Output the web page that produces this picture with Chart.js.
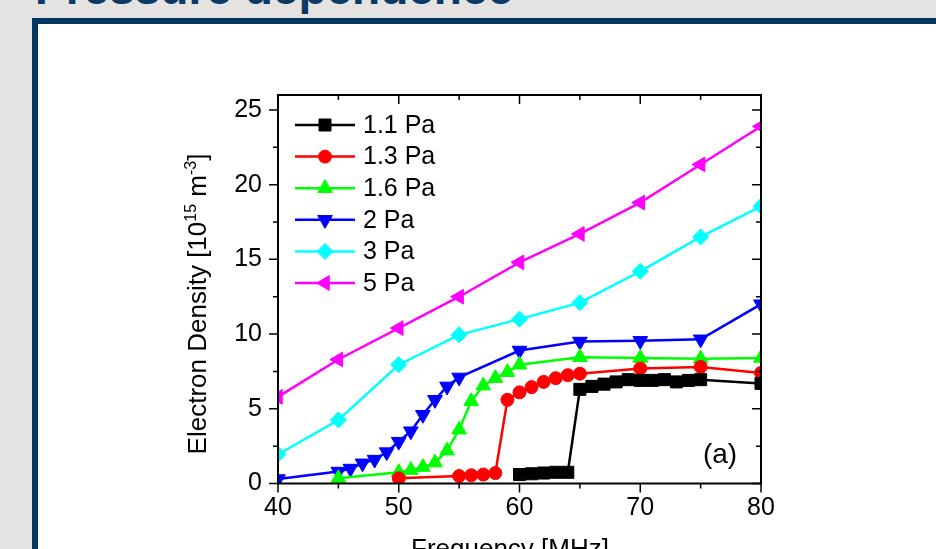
<!DOCTYPE html>
<html>
<head>
<meta charset="utf-8">
<script src="https://cdn.jsdelivr.net/npm/chart.js@4.4.1/dist/chart.umd.min.js"></script>
<style>
  html, body { margin: 0; padding: 0; width: 936px; height: 549px; overflow: hidden; background: #e4e3e2; }
  #slideTitle { position: absolute; left: 35px; top: -35px; font: bold 46px 'Liberation Sans', Arial, sans-serif; line-height: 46px; color: #0b3a66; white-space: nowrap; }
  #frame { position: absolute; left: 32px; top: 18px; width: 960px; height: 600px; background: #fff; border-left: 6px solid #023761; border-top: 6px solid #023761; }
  #c { position: absolute; left: 0; top: 0; }
</style>
</head>
<body>
<div id="slideTitle">Pressure dependence</div>
<div id="frame"></div>
<canvas id="c" width="936" height="600"></canvas>
<script>
// values (frequency in MHz, density in 1e15 m^-3)
const freq11 = [60, 61, 62, 63, 64, 65, 66, 67, 68, 69, 70, 71, 72, 73, 74, 75, 80];
const dens11 = [0.6, 0.65, 0.7, 0.75, 0.75, 6.3, 6.5, 6.65, 6.8, 6.95, 6.9, 6.9, 6.95, 6.8, 6.9, 6.95, 6.7];

const freq13 = [50, 55, 56, 57, 58, 59, 60, 61, 62, 63, 64, 65, 70, 75, 80];
const dens13 = [0.35, 0.5, 0.55, 0.6, 0.7, 5.6, 6.1, 6.45, 6.8, 7.05, 7.25, 7.35, 7.7, 7.8, 7.4];

const freq16 = [45, 50, 51, 52, 53, 54, 55, 56, 57, 58, 59, 60, 65, 70, 75, 80];
const dens16 = [0.35, 0.75, 0.9, 1.1, 1.4, 2.2, 3.6, 5.5, 6.55, 7.05, 7.45, 7.95, 8.45, 8.4, 8.35, 8.4];

const freq2 = [40, 45, 46, 47, 48, 49, 50, 51, 52, 53, 54, 55, 60, 65, 70, 75, 80];
const dens2 = [0.3, 0.8, 1.0, 1.35, 1.6, 2.1, 2.8, 3.5, 4.6, 5.6, 6.5, 7.1, 8.9, 9.5, 9.55, 9.65, 12.0];

const freq3 = [40, 45, 50, 55, 60, 65, 70, 75, 80];
const dens3 = [1.95, 4.25, 7.95, 9.95, 11.0, 12.1, 14.2, 16.5, 18.55];

const freq5 = [40, 45, 50, 55, 60, 65, 70, 75, 80];
const dens5 = [5.8, 8.3, 10.4, 12.5, 14.8, 16.7, 18.8, 21.35, 23.9];

const seriesLabels = ['1.1 Pa', '1.3 Pa', '1.6 Pa', '2 Pa', '3 Pa', '5 Pa'];
const xMajorTicks = [40, 50, 60, 70, 80];
const xMinorTicks = [45, 55, 65, 75];
const yMajorTicks = [0, 5, 10, 15, 20, 25];
const yMinorTicks = [2.5, 7.5, 12.5, 17.5, 22.5];

const FONT = "'Liberation Sans', Arial, sans-serif";

const toPoints = (xs, ys) => xs.map((x, i) => ({ x: x, y: ys[i] }));

const makeSet = (label, xs, ys, color, style, rotation, radius) => ({
    label: label,
    data: toPoints(xs, ys),
    showLine: true,
    borderColor: color,
    backgroundColor: color,
    borderWidth: 2.5,
    pointStyle: style,
    pointRotation: rotation,
    pointRadius: radius,
    pointHoverRadius: radius,
    pointBorderWidth: 1,
    pointBackgroundColor: color,
    pointBorderColor: color,
    clip: 0
});

const datasets = [
    makeSet(seriesLabels[0], freq11, dens11, '#000000', 'rect', 0, 8.5),
    makeSet(seriesLabels[1], freq13, dens13, '#ff0000', 'circle', 0, 6.5),
    makeSet(seriesLabels[2], freq16, dens16, '#00ff00', 'triangle', 0, 8.5),
    makeSet(seriesLabels[3], freq2, dens2, '#0000ff', 'triangle', 180, 8.5),
    makeSet(seriesLabels[4], freq3, dens3, '#00ffff', 'rectRot', 0, 8),
    makeSet(seriesLabels[5], freq5, dens5, '#ff00ff', 'triangle', 270, 8.5)
];

// box, mirrored tick marks, legend and axis titles in the Origin look
const originFrame = {
    id: 'originFrame',
    afterDatasetsDraw(chart) {
        const { ctx, chartArea: a, scales: { x, y } } = chart;
        ctx.save();
        ctx.strokeStyle = '#000';
        ctx.lineWidth = 2;
        ctx.strokeRect(a.left, a.top, a.right - a.left, a.bottom - a.top);
        ctx.lineWidth = 1.5;
        ctx.beginPath();
        const xt = (v, len) => {
            const px = x.getPixelForValue(v);
            ctx.moveTo(px, a.bottom); ctx.lineTo(px, a.bottom + len);
            ctx.moveTo(px, a.top); ctx.lineTo(px, a.top + len);
        };
        const yt = (v, len) => {
            const py = y.getPixelForValue(v);
            ctx.moveTo(a.left, py); ctx.lineTo(a.left - len, py);
            ctx.moveTo(a.right, py); ctx.lineTo(a.right - len, py);
        };
        xMajorTicks.forEach(v => xt(v, 9));
        xMinorTicks.forEach(v => xt(v, 5));
        yMajorTicks.forEach(v => yt(v, 9));
        yMinorTicks.forEach(v => yt(v, 5));
        ctx.stroke();

        // legend
        chart.data.datasets.forEach((ds, i) => {
            const ly = a.top + 30 + i * 31.6;
            ctx.strokeStyle = ds.borderColor;
            ctx.lineWidth = 2.5;
            ctx.beginPath();
            ctx.moveTo(a.left + 17, ly);
            ctx.lineTo(a.left + 77, ly);
            ctx.stroke();
            ctx.fillStyle = ds.pointBackgroundColor;
            ctx.strokeStyle = ds.pointBorderColor;
            ctx.lineWidth = 1;
            Chart.helpers.drawPoint(ctx, {
                pointStyle: ds.pointStyle,
                rotation: ds.pointRotation,
                radius: ds.pointRadius,
                borderWidth: 1
            }, a.left + 47, ly);
            ctx.fillStyle = '#000';
            ctx.font = '25px ' + FONT;
            ctx.textAlign = 'left';
            ctx.textBaseline = 'middle';
            ctx.fillText(ds.label, a.left + 85, ly + 1);
        });

        // panel tag
        ctx.font = '28px ' + FONT;
        ctx.textAlign = 'center';
        ctx.fillText('(a)', 720, 455);

        // x title
        ctx.font = '26px ' + FONT;
        ctx.textBaseline = 'alphabetic';
        ctx.fillText('Frequency [MHz]', 510, 557);

        // y title with superscripts
        ctx.translate(206, 304);
        ctx.rotate(-Math.PI / 2);
        const parts = [
            ['Electron Density [10', 26, 0],
            ['15', 16, -10],
            [' m', 26, 0],
            ['-3', 16, -10],
            [']', 26, 0]
        ];
        let total = 0;
        parts.forEach(p => { ctx.font = p[1] + 'px ' + FONT; total += ctx.measureText(p[0]).width; });
        let cx = -total / 2;
        ctx.textAlign = 'left';
        parts.forEach(p => {
            ctx.font = p[1] + 'px ' + FONT;
            ctx.fillText(p[0], cx, p[2]);
            cx += ctx.measureText(p[0]).width;
        });
        ctx.restore();
    }
};

const chartOptions = {
    responsive: false,
    devicePixelRatio: 1,
    animation: false,
    layout: {
        padding: { left: 178, right: 175, top: 95, bottom: 36.5 }
    },
    plugins: {
        legend: { display: false },
        tooltip: { enabled: false }
    },
    scales: {
        x: {
            type: 'linear',
            min: 40,
            max: 80,
            grid: { display: false, drawTicks: false },
            border: { display: false },
            ticks: {
                stepSize: 10,
                autoSkip: false,
                maxRotation: 0,
                padding: 10,
                color: '#000',
                font: { size: 25, family: FONT }
            },
            afterFit: (s) => { s.height = 80; }
        },
        y: {
            min: 0,
            max: 26,
            grid: { display: false, drawTicks: false },
            border: { display: false },
            ticks: {
                stepSize: 5,
                includeBounds: false,
                padding: 16,
                color: '#000',
                font: { size: 25, family: FONT },
                callback: (v) => (v % 5 === 0 ? v : '')
            },
            afterFit: (s) => { s.width = 100; }
        }
    }
};

new Chart(document.getElementById('c'), {
    type: 'scatter',
    data: { datasets: datasets },
    options: chartOptions,
    plugins: [originFrame]
});
</script>
</body>
</html>
